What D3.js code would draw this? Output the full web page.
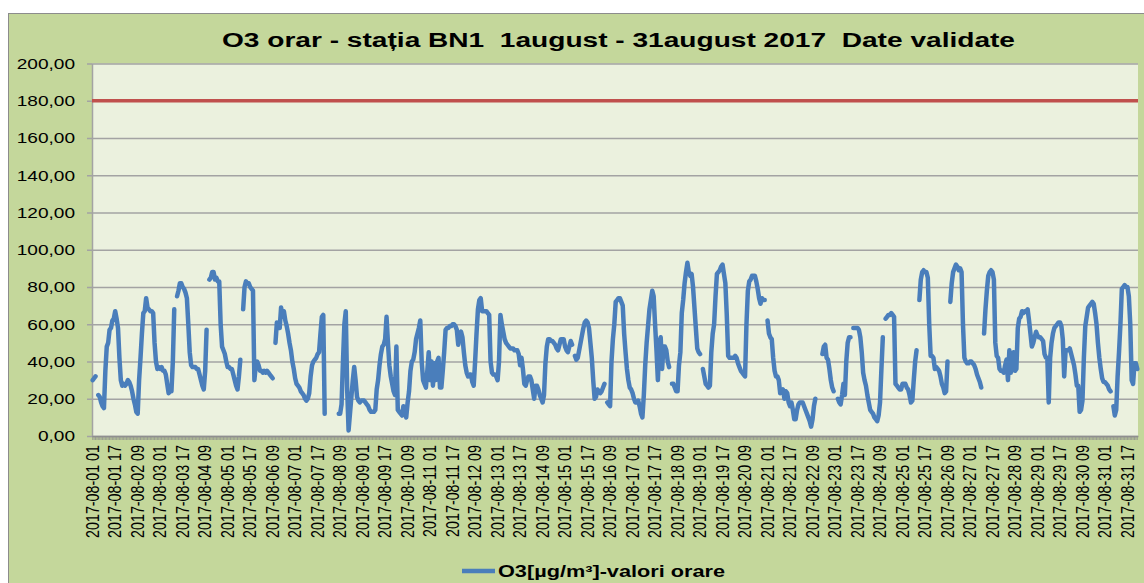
<!DOCTYPE html>
<html>
<head>
<meta charset="utf-8">
<script src="https://cdn.jsdelivr.net/npm/d3@7"></script>
<style>
    body { margin: 0; background: #fff; }
    svg { display: block; font-family: Arial, "Liberation Sans", sans-serif; }
</style>
</head>
<body>
<svg width="1144" height="583"></svg>
<script>
// hourly O3 values (µg/m³), one array per day, hours 01..24, null = missing
const aug01 = [30,31,32,null,22,21,18,16,15,35,48,50,57,58,62,63,67,63,58,42,30,27,28,27];
const aug02 = [28,30,29,27,24,20,17,13,12,30,42,55,66,67,74,69,68,67,67,66,50,40,36,37];
const aug03 = [36,37,35,35,33,28,23,24,24,40,68,null,75,78,82,82,80,79,77,74,60,45,38,37];
const aug04 = [37,37,36,36,33,30,27,25,35,57,null,84,85,88,88,84,85,83,83,60,48,46,44,40];
const aug05 = [37,37,36,36,33,30,27,25,32,41,null,68,80,83,82,82,80,79,78,30,38,40,38,35];
const aug06 = [35,34,35,34,35,34,33,32,31,null,50,61,60,58,69,64,67,62,59,55,50,46,40,36];
const aug07 = [31,28,27,26,24,23,22,20,19,20,23,32,38,40,41,42,44,45,55,64,65,12,null,null];
const aug08 = [null,null,null,null,null,null,null,12,12,17,40,60,67,25,3,12,21,30,37,30,21,19,18,19];
const aug09 = [19,19,18,17,16,14,13,13,13,14,25,30,38,44,48,49,52,64,50,38,32,28,24,22];
const aug10 = [48,14,13,12,11,16,12,10,18,24,35,40,41,45,52,55,58,62,40,30,28,26,35,45];
const aug11 = [30,40,27,39,30,40,42,26,26,35,45,57,58,58,59,59,60,60,59,57,49,55,56,53];
const aug12 = [45,38,34,32,33,33,29,27,40,55,68,73,74,67,67,67,67,66,65,40,34,33,33,32];
const aug13 = [30,40,65,60,56,52,50,49,48,47,47,47,46,46,46,44,38,42,36,28,27,30,32,32];
const aug14 = [30,25,20,27,27,25,22,20,18,22,39,48,52,52,51,51,50,49,47,46,49,52,52,52];
const aug15 = [48,46,45,48,51,49,null,43,41,42,46,50,54,58,61,62,61,58,50,42,30,20,21,25];
const aug16 = [24,23,24,26,28,null,18,17,16,40,52,60,72,73,74,74,72,70,55,45,36,30,26,25];
const aug17 = [23,20,18,18,19,16,12,10,22,38,50,59,68,73,78,75,60,46,30,50,53,36,48,48];
const aug18 = [46,40,37,null,28,28,26,24,24,38,45,66,73,82,88,93,88,86,87,80,69,58,47,45];
const aug19 = [44,null,36,32,28,27,26,27,45,55,60,75,87,88,89,91,92,87,82,65,43,42,42,42];
const aug20 = [42,43,42,39,37,35,34,33,32,60,78,83,84,86,86,86,83,79,74,71,74,73,73,null];
const aug21 = [62,55,53,52,42,35,32,32,30,23,24,25,20,24,23,18,16,18,14,9,9,14,17,18];
const aug22 = [18,18,16,14,12,10,8,5,9,16,20,null,null,null,null,44,48,49,42,41,36,30,26,24];
const aug23 = [null,null,20,18,17,22,28,22,40,50,53,53,null,58,58,58,58,57,53,45,34,30,27,22];
const aug24 = [18,14,13,12,10,9,8,11,18,36,53,null,63,64,65,65,66,65,64,28,27,26,25,25];
const aug25 = [28,28,28,26,25,22,18,19,30,40,46,null,73,84,88,89,88,88,85,60,43,43,42,36];
const aug26 = [37,36,35,32,28,26,23,24,40,null,72,82,88,90,92,91,89,90,88,60,42,40,39,39];
const aug27 = [40,40,39,38,36,33,31,29,26,null,55,68,78,86,88,89,88,84,50,43,42,36,35,35];
const aug28 = [34,38,41,30,46,34,42,45,35,36,58,63,64,67,66,67,67,68,62,55,48,50,53,56];
const aug29 = [54,53,53,52,51,44,42,42,18,42,50,55,58,59,60,61,61,59,52,32,46,46,46,47];
const aug30 = [44,41,38,33,27,27,13,14,19,42,59,64,69,70,71,72,71,66,60,50,42,36,31,29];
const aug31 = [29,28,27,25,24,null,16,11,14,32,45,60,79,80,81,80,80,75,60,30,28,39,39,36];

const days = ['01','02','03','04','05','06','07','08','09','10','11','12','13','14','15','16',
    '17','18','19','20','21','22','23','24','25','26','27','28','29','30','31'];
const hours = ['01','02','03','04','05','06','07','08','09','10','11','12',
    '13','14','15','16','17','18','19','20','21','22','23','24'];
const yTicks = [0,20,40,60,80,100,120,140,160,180,200];
const limitValue = 180;
const labelStep = 16;
const seriesName = 'O3[µg/m³]-valori orare';
const chartTitle = 'O3 orar - stația BN1  1august - 31august 2017  Date validate';

const o3Days = [aug01,aug02,aug03,aug04,aug05,aug06,aug07,aug08,aug09,aug10,aug11,aug12,aug13,aug14,aug15,aug16,
    aug17,aug18,aug19,aug20,aug21,aug22,aug23,aug24,aug25,aug26,aug27,aug28,aug29,aug30,aug31];

const points = [];
days.forEach((d, di) => {
    hours.forEach((h, hi) => {
        points.push({ cat: `2017-08-${d} ${h}`, value: o3Days[di][hi] });
    });
});

const blue = '#4a7ebb';
const red = '#c0504d';
const gridColor = '#a3a3a3';
const stretch = 1.23;   // the reference text is a bit wide

const svg = d3.select('svg');

// chart background
svg.append('rect')
    .attr('x', 8.5).attr('y', 13.5)
    .attr('width', 1160).attr('height', 600)
    .attr('fill', '#c4d79b')
    .attr('stroke', '#8c8c8c');

const plotLeft = 92, plotRight = 1138, plotTop = 63.5, plotBottom = 436;

const xScale = d3.scaleBand().domain(points.map(p => p.cat)).range([plotLeft, plotRight]);
const xPos = c => xScale(c) + xScale.bandwidth() / 2;
const yScale = d3.scaleLinear().domain([0, 200]).range([plotBottom, plotTop]);

const comma = d3.formatLocale({ decimal: ',', thousands: '.', grouping: [3], currency: ['', ''] }).format('.2f');

//plot area
svg.append('rect')
    .attr('x', plotLeft).attr('y', plotTop)
    .attr('width', plotRight - plotLeft).attr('height', plotBottom - plotTop)
    .attr('fill', '#ebf1de');

//grid
svg.append('g')
    .attr('transform', `translate(${plotLeft},0)`)
    .call(d3.axisLeft(yScale).tickValues(yTicks).tickSize(-(plotRight - plotLeft)).tickFormat(''))
    .call(g => g.select('.domain').remove())
    .selectAll('line')
        .attr('stroke', gridColor)
        .attr('stroke-width', 1.5);

//y axis
const yAxis = svg.append('g')
    .attr('transform', `translate(${plotLeft},0)`)
    .call(d3.axisLeft(yScale).tickValues(yTicks).tickSizeInner(5).tickSizeOuter(0).tickPadding(8.8).tickFormat(comma));
yAxis.select('.domain').attr('stroke', gridColor).attr('stroke-width', 1.5);
yAxis.selectAll('line').attr('stroke', gridColor).attr('stroke-width', 1.5);
yAxis.selectAll('text')
    .attr('font-size', '15.5px')
    .attr('fill', '#000')
    .attr('transform', `scale(${stretch},1)`);

//x axis: one small tick per hour
const xAxis = svg.append('g')
    .attr('transform', `translate(0,${plotBottom})`)
    .call(d3.axisBottom(xScale).tickSize(4).tickSizeOuter(0).tickFormat(''));
xAxis.select('.domain').attr('stroke', '#8f8f8f').attr('stroke-width', 1.5);
xAxis.selectAll('line').attr('stroke', '#8f8f8f').attr('stroke-width', 0.8);

//x labels every 16 hours
const labelCats = points.filter((p, i) => i % labelStep === 0).map(p => p.cat);
svg.append('g')
    .attr('transform', `translate(0,${plotBottom})`)
    .call(d3.axisBottom(xScale).tickValues(labelCats).tickSize(0))
    .call(g => g.select('.domain').remove())
    .selectAll('text')
        .attr('x', 0).attr('y', 0)
        .attr('dy', '0.35em')
        .attr('text-anchor', 'end')
        .attr('font-size', '14.3px')
        .attr('fill', '#000')
        .attr('transform', `translate(0,9) scale(${stretch},1) rotate(-90)`);

//limit line
svg.append('path')
    .datum(xScale.range())
    .attr('d', d3.line().x(d => d).y(() => yScale(limitValue)))
    .attr('stroke', red)
    .attr('stroke-width', 3.5)
    .attr('fill', 'none');

//O3 series
const line = d3.line()
    .defined(d => d.value != null)
    .x(d => xPos(d.cat))
    .y(d => yScale(d.value));

svg.append('path')
    .datum(points)
    .attr('d', line)
    .attr('fill', 'none')
    .attr('stroke', blue)
    .attr('stroke-width', 4.5)
    .attr('stroke-linejoin', 'round')
    .attr('stroke-linecap', 'round');

//title
svg.append('text')
    .attr('x', 618.5)
    .attr('y', 47)
    .attr('text-anchor', 'middle')
    .attr('font-size', '20px')
    .attr('font-weight', 'bold')
    .attr('textLength', 793)
    .attr('lengthAdjust', 'spacingAndGlyphs')
    .style('white-space', 'pre')
    .text(chartTitle);

//legend
const legend = svg.append('g');
legend.append('line')
    .attr('x1', 462).attr('x2', 495)
    .attr('y1', 571).attr('y2', 571)
    .attr('stroke', blue)
    .attr('stroke-width', 4.5);
legend.append('text')
    .attr('x', 498)
    .attr('y', 577)
    .attr('font-size', '15.8px')
    .attr('font-weight', 'bold')
    .attr('textLength', 227)
    .attr('lengthAdjust', 'spacingAndGlyphs')
    .text(seriesName);
</script>
</body>
</html>
